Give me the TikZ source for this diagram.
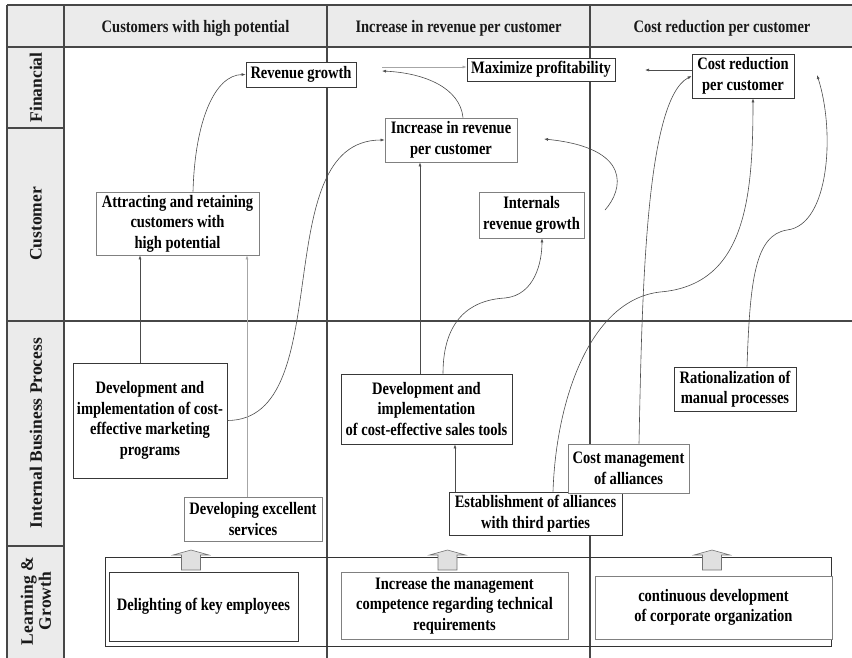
\documentclass[tikz,border=0pt]{standalone}
\usepackage{fontspec}
\setmainfont{Liberation Serif}
\newfontfamily\boxfont[FakeStretch=0.83]{Liberation Serif}
\newfontfamily\rowfont{Liberation Serif}
\usetikzlibrary{arrows.meta}
\begin{document}
\begin{tikzpicture}[x=1pt,y=-1pt,
  grid/.style={draw=black!72,line width=1.2pt},
  band/.style={fill=black!8,draw=none},
  box/.style={draw=black!78,line width=0.8pt,fill=white,align=center,inner sep=0pt,
    font=\boxfont\bfseries\fontsize{17.5}{20.5}\selectfont,text=black},
  lightbox/.style={box,draw=black!50},
  headtxt/.style={font=\boxfont\bfseries\fontsize{17.5}{20.5}\selectfont,text=black!90},
  rowtxt/.style={rotate=90,align=center,font=\rowfont\bfseries\fontsize{17.5}{18}\selectfont,text=black!90},
  conn/.style={draw=black!70,line width=0.6pt,-{Latex[length=4pt,width=3pt]}},
  faint/.style={conn,draw=black!35},
  blockup/.pic={\draw[draw=black!55,fill=black!12,line width=0.6pt]
    (-9.5,20)--(-9.5,5)--(-18,5)--(0,0)--(18,5)--(9.5,5)--(9.5,20)--cycle;}
]
\useasboundingbox (0,0) rectangle (852,657);
\clip (0,0) rectangle (852,657);

% shaded header row and perspective column
\fill[band] (7,5) rectangle (860,47);
\fill[band] (7,47) rectangle (64,665);

% grid
\draw[grid] (7,5) -- (860,5);
\draw[grid] (7,47) -- (860,47);
\draw[grid] (7,321) -- (860,321);
\draw[grid] (7,128) -- (64,128);
\draw[grid] (7,546) -- (64,546);
\draw[grid] (7,5) -- (7,665);
\draw[grid] (64,5) -- (64,665);
\draw[grid] (327,5) -- (327,665);
\draw[grid] (590,5) -- (590,665);

% column headings
\node[headtxt] (h1) at (195.5,28) {Customers with high potential};
\node[headtxt] (h2) at (458.5,28) {Increase in revenue per customer};
\node[headtxt] (h3) at (722,28) {Cost reduction per customer};

% perspective labels
\node[rowtxt] (r1) at (36,87.5) {Financial};
\node[rowtxt] (r2) at (36,224) {Customer};
\node[rowtxt] (r3) at (36,433) {Internal Business Process};
\node[rowtxt] (r4) at (36,601) {Learning \&\\Growth};

% learning & growth frame
\draw[draw=black!80,line width=0.8pt] (105,557) rectangle (831,646);

% objectives
\node[box,minimum width=110pt,minimum height=25pt] (rev) at (301,74.5) {Revenue growth};
\node[box,minimum width=148pt,minimum height=23pt] (maxp) at (541,69.5) {Maximize profitability};
\node[box,minimum width=102pt,minimum height=44pt] (costred) at (743,76) {Cost reduction\\per customer};
\node[lightbox,minimum width=132pt,minimum height=44pt] (incrrev) at (451,140) {Increase in revenue\\per customer};
\node[lightbox,minimum width=105pt,minimum height=46pt] (internals) at (531.5,215) {Internals\\revenue growth};
\node[lightbox,minimum width=163pt,minimum height=63pt] (attract) at (177.5,223.5) {Attracting and retaining\\customers with\\high potential};
\node[box,minimum width=154pt,minimum height=115pt] (mkt) at (150,420.5) {Development and\\implementation of cost-\\effective marketing\\programs};
\node[lightbox,minimum width=138pt,minimum height=44pt] (services) at (253,519) {Developing excellent\\services};
\node[box,minimum width=171pt,minimum height=70pt] (sales) at (426.5,409) {Development and\\implementation\\of cost-effective sales tools};
\node[box,minimum width=173pt,minimum height=43pt] (alliances) at (535.5,513.5) {Establishment of alliances\\with third parties};
\node[lightbox,minimum width=121pt,minimum height=49pt] (costmgmt) at (628.5,468.5) {Cost management\\of alliances};
\node[box,minimum width=122pt,minimum height=44pt] (ration) at (735,389) {Rationalization of\\manual processes};
\node[box,minimum width=189pt,minimum height=69pt] (delight) at (203.5,606.5) {Delighting of key employees};
\node[lightbox,minimum width=227pt,minimum height=67pt] (mgmt) at (454.5,605.5) {Increase the management\\competence regarding technical\\requirements};
\node[lightbox,minimum width=237pt,minimum height=63pt] (contdev) at (713.5,607.5) {continuous development\\of corporate organization};

% upward block arrows out of the learning & growth frame
\pic at (191,550) {blockup};
\pic at (447.5,550) {blockup};
\pic at (712,550) {blockup};

% free ends of connectors
\coordinate (revtip) at (382,71);
\coordinate (maxtail) at (382,67);
\coordinate (costtip) at (645,70);
\coordinate (inttail) at (605,210);
\coordinate (inctip) at (544,139);
\coordinate (rattip) at (817,75);

% cause-and-effect links
\draw[conn] ([xshift=15.5pt]attract.north) .. controls (195,120) and (215,75) .. (rev.west);
\draw[conn] ([xshift=12pt]incrrev.north) .. controls (460,88) and (425,73) .. (revtip);
\draw[faint] (maxtail) -- (maxtail -| maxp.west);
\draw[conn] ([yshift=6pt]costred.west) -- (costtip);
\draw[conn] (inttail) .. controls (623,190) and (633,148) .. (inctip);
\draw[conn] (mkt.east) .. controls (340,420) and (265,140) .. (incrrev.west);
\draw[conn] ([xshift=-10pt]mkt.north) -- ([xshift=-10pt]mkt.north |- attract.south);
\draw[faint] ([xshift=-6pt]services.north) -- ([xshift=-6pt]services.north |- attract.south);
\draw[conn] ([xshift=-6.5pt]sales.north) -- ([xshift=-6.5pt]sales.north |- incrrev.south);
\draw[conn] ([xshift=16.5pt]sales.north) .. controls (443,320) and (470,300) .. (505,298)
  .. controls (535,295) and (542,262) .. ([xshift=10.5pt]internals.south);
\draw[conn] ([xshift=17.5pt]alliances.north) .. controls (556,400) and (590,300) .. (660,292)
  .. controls (745,285) and (753,200) .. ([xshift=10pt]costred.south);
\draw[conn] ([xshift=10.5pt]costmgmt.north) .. controls (642,300) and (645,100) .. (costred.west);
\draw[conn] ([xshift=12pt]ration.north) .. controls (750,280) and (755,235) .. (787,230)
  .. controls (830,225) and (835,130) .. (rattip);
\draw[conn] ([xshift=-80.5pt]alliances.north) -- ([xshift=-80.5pt]alliances.north |- sales.south);
\end{tikzpicture}
\end{document}
